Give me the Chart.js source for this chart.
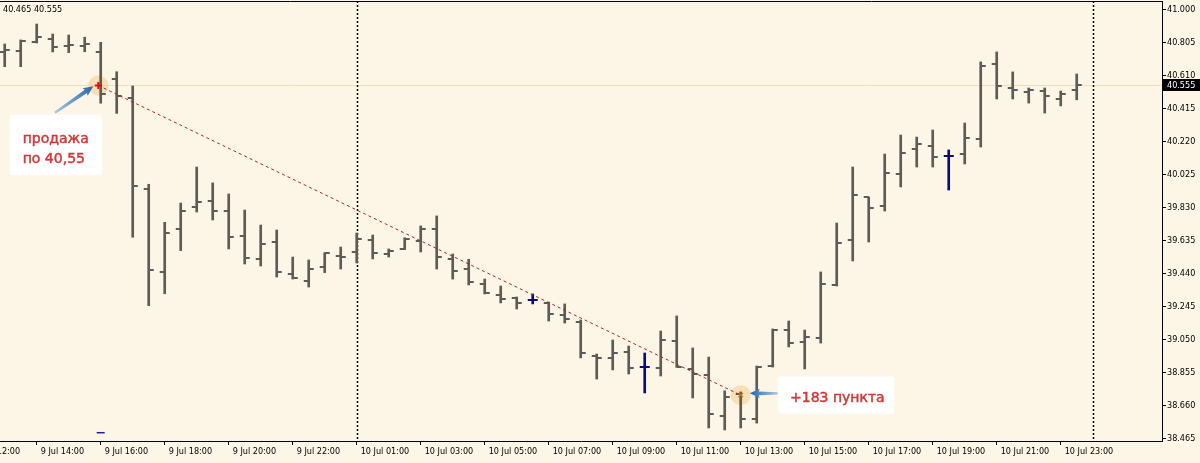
<!DOCTYPE html>
<html><head><meta charset="utf-8">
<script src="https://cdn.jsdelivr.net/npm/chart.js@4.4.0/dist/chart.umd.min.js"></script>
<style>html,body{margin:0;padding:0;background:#FDF5E6;overflow:hidden}#wrap{width:1200px;height:463px;position:relative}</style>
</head><body><div id="wrap"><canvas id="c" width="1200" height="463"></canvas></div>
<script>
// ---- data (M30 bars, 9 Jul 13:00 .. 10 Jul 23:30) ----
const opens = [40.748,40.754,40.807,40.825,40.783,40.783,40.749,40.586,40.474,39.938,
39.449,39.700,39.832,39.867,39.808,39.660,39.525,39.625,39.436,39.395,
39.479,39.542,39.566,39.637,39.554,39.584,39.631,39.702,39.525,39.465,
39.377,39.312,39.294,39.282,39.265,39.194,39.152,38.951,38.940,38.975,
38.886,38.880,39.040,38.875,38.839,38.597,38.727,38.579,38.892,39.105,
39.034,39.058,39.371,39.637,39.891,39.838,40.027,40.175,40.192,40.133,
40.145,40.234,40.677,40.535,40.511,40.517,40.470,40.523];
const highs = [40.795,40.819,40.913,40.854,40.848,40.835,40.805,40.631,40.547,39.966,
39.741,39.855,40.068,39.974,39.909,39.814,39.725,39.696,39.536,39.519,
39.562,39.595,39.678,39.666,39.584,39.650,39.720,39.779,39.554,39.523,
39.406,39.365,39.300,39.318,39.270,39.259,39.164,38.963,39.046,39.010,
38.969,39.099,39.188,38.999,38.945,38.745,38.739,38.892,39.111,39.158,
39.105,39.448,39.737,40.068,39.891,40.145,40.257,40.245,40.287,40.169,
40.328,40.689,40.748,40.630,40.535,40.535,40.517,40.618];
const lows = [40.661,40.661,40.801,40.748,40.744,40.749,40.445,40.385,39.653,39.249,
39.319,39.574,39.802,39.755,39.584,39.495,39.483,39.418,39.406,39.359,
39.444,39.465,39.501,39.525,39.536,39.580,39.566,39.465,39.406,39.371,
39.318,39.265,39.229,39.259,39.158,39.146,38.940,38.815,38.869,38.845,
38.733,38.833,38.884,38.703,38.526,38.514,38.526,38.555,38.886,39.005,
38.875,39.028,39.365,39.513,39.625,39.808,39.950,40.068,40.068,39.932,
40.086,40.186,40.470,40.470,40.446,40.387,40.429,40.465];
const closes = [40.760,40.813,40.836,40.777,40.789,40.792,40.500,40.488,39.958,39.458,
39.680,39.810,39.861,39.808,39.655,39.530,39.613,39.448,39.412,39.465,
39.558,39.536,39.643,39.560,39.572,39.643,39.702,39.536,39.454,39.389,
39.324,39.288,39.265,39.282,39.200,39.170,38.969,38.940,38.969,38.880,
38.886,39.046,38.886,38.845,38.609,38.709,38.579,38.886,39.105,39.028,
39.064,39.377,39.619,39.903,39.826,40.033,40.151,40.204,40.127,40.133,
40.240,40.665,40.547,40.523,40.523,40.488,40.500,40.555];

const xTickIndex  = [-2,2,6,10,14,18,22,26,30,34,38,42,46,50,54,58,62,66];
const xTickLabels = ['9 Jul 12:00','9 Jul 14:00','9 Jul 16:00','9 Jul 18:00','9 Jul 20:00','9 Jul 22:00',
  '10 Jul 01:00','10 Jul 03:00','10 Jul 05:00','10 Jul 07:00','10 Jul 09:00','10 Jul 11:00',
  '10 Jul 13:00','10 Jul 15:00','10 Jul 17:00','10 Jul 19:00','10 Jul 21:00','10 Jul 23:00'];
const yTickValues = [38.465,38.660,38.855,39.050,39.245,39.440,39.635,39.830,40.025,40.220,40.415,40.610,40.805,41.000];
const separatorIndex = [22, 68];
const bidPrice = 40.555;
const tradeIndex = [5.85, 46];
const tradePrice = [40.55, 38.72];
const objIndex = [6];
const objPrice = [38.498];
const infoText = '40.465 40.555';
const noteSell = ['продажа', 'по 40,55'];
const noteProfit = '+183 пункта';

// ---- styles ----
const BG = '#FDF5E6';
const BAR = '#5b5b57';
const DOJI = '#0a0a78';
const AXFONT = {family: "'DejaVu Sans Condensed','DejaVu Sans',sans-serif", size: 9};
const FONTSTR = "9px 'DejaVu Sans Condensed','DejaVu Sans',sans-serif";

function tickImg(color, side) {
  const c = document.createElement('canvas'); c.width = 12; c.height = 2;
  const g = c.getContext('2d'); g.fillStyle = color;
  if (side === 'L') g.fillRect(1, 0, 5, 2); else g.fillRect(6, 0, 5, 2);
  return c;
}
const imgs = {gL: tickImg(BAR,'L'), gR: tickImg(BAR,'R'), nL: tickImg(DOJI,'L'), nR: tickImg(DOJI,'R')};
const isDoji = i => opens[i] === closes[i];
const idx = opens.map((_, i) => i);

function arrow(ctx, x1, y1, x2, y2) {
  const ang = Math.atan2(y2 - y1, x2 - x1), len = Math.hypot(x2 - x1, y2 - y1);
  ctx.save(); ctx.translate(x1, y1); ctx.rotate(ang);
  const g = ctx.createLinearGradient(0, 0, len, 0);
  g.addColorStop(0, '#a8c6e6'); g.addColorStop(1, '#2766ab');
  ctx.fillStyle = g; ctx.beginPath();
  ctx.moveTo(0, -1.1); ctx.lineTo(len - 9, -1.9); ctx.lineTo(len - 10, -4.6); ctx.lineTo(len, 0);
  ctx.lineTo(len - 10, 4.6); ctx.lineTo(len - 9, 1.9); ctx.lineTo(0, 1.1); ctx.closePath(); ctx.fill();
  ctx.restore();
}
function softBox(ctx, x, y, w, h) {
  ctx.save(); ctx.shadowColor = 'rgba(255,255,255,0.9)'; ctx.shadowBlur = 5;
  ctx.fillStyle = 'rgba(255,255,255,0.88)'; ctx.fillRect(x, y, w, h); ctx.restore();
}
function noteText(ctx, s, x, y) {
  ctx.fillText(s, x, y); ctx.strokeText(s, x, y);
}

const decor = {
  id: 'decor',
  beforeDraw(chart) {
    const {ctx, width, height} = chart;
    ctx.save(); ctx.fillStyle = BG; ctx.fillRect(0, 0, width, height); ctx.restore();
  },
  beforeDatasetsDraw(chart) {
    const {ctx, chartArea: a, scales: {x, y}} = chart;
    ctx.save();
    const by = Math.round(y.getPixelForValue(bidPrice)) + 0.5;
    ctx.strokeStyle = '#F1DDB9'; ctx.lineWidth = 1;
    ctx.beginPath(); ctx.moveTo(a.left, by); ctx.lineTo(a.right, by); ctx.stroke();
    ctx.strokeStyle = '#000'; ctx.lineWidth = 1.5; ctx.setLineDash([2, 2]);
    separatorIndex.forEach(i => {
      const px = Math.round(x.getPixelForValue(i)) + 0.5;
      ctx.beginPath(); ctx.moveTo(px, a.top); ctx.lineTo(px, a.bottom); ctx.stroke();
    });
    ctx.setLineDash([]); ctx.lineWidth = 1;
    ctx.beginPath(); ctx.moveTo(a.left, a.top + 0.5); ctx.lineTo(a.right, a.top + 0.5); ctx.stroke();
    ctx.restore();
  },
  afterDatasetsDraw(chart) {
    const {ctx, scales: {x, y}} = chart;
    const p1 = {x: x.getPixelForValue(tradeIndex[0]), y: y.getPixelForValue(tradePrice[0])};
    const p2 = {x: x.getPixelForValue(tradeIndex[1]), y: y.getPixelForValue(tradePrice[1])};
    ctx.save();
    softBox(ctx, p1.x - 88.3, p1.y + 29.5, 91.7, 60);
    softBox(ctx, p2.x + 37.6, p2.y - 18.4, 116, 36.6);
    arrow(ctx, p1.x - 43.3, p1.y + 27.3, p1.x - 5, p1.y + 0.8);
    arrow(ctx, p2.x + 37, p2.y - 1.8, p2.x + 9, p2.y - 1.8);
    ctx.fillStyle = '#D13A3A'; ctx.strokeStyle = '#D13A3A'; ctx.lineWidth = 0.5;
    ctx.font = "14px 'DejaVu Sans',sans-serif"; ctx.textBaseline = 'alphabetic';
    noteText(ctx, noteSell[0], p1.x - 75.6, p1.y + 57.5);
    noteText(ctx, noteSell[1], p1.x - 75.6, p1.y + 77.5);
    noteText(ctx, noteProfit, p2.x + 49.3, p2.y + 6.6);
    ctx.restore();
  },
  afterDraw(chart) {
    const {ctx, chartArea: a, scales: {y}} = chart;
    ctx.save();
    const py = Math.round(y.getPixelForValue(bidPrice));
    ctx.fillStyle = '#000'; ctx.fillRect(a.right + 1, py - 6, 38, 12);
    ctx.fillStyle = '#fff'; ctx.font = FONTSTR; ctx.textBaseline = 'middle'; ctx.textAlign = 'left';
    ctx.fillText(bidPrice.toFixed(3), a.right + 5, py + 0.5);
    ctx.fillStyle = '#000';
    ctx.fillText(infoText, 3, 9.5);
    ctx.restore();
  }
};

new Chart(document.getElementById('c'), {
  type: 'bar',
  data: {
    datasets: [
      {type: 'scatter', order: 10, data: tradeIndex.map((v, i) => ({x: v, y: tradePrice[i]})),
        pointRadius: 10, pointBackgroundColor: 'rgba(252,200,130,0.5)', pointBorderWidth: 0},
      {type: 'bar', order: 6, data: idx.map(i => ({x: i, y: [lows[i], highs[i]]})),
        barThickness: 2, backgroundColor: idx.map(i => isDoji(i) ? DOJI : BAR), borderWidth: 0},
      {type: 'scatter', order: 5, data: idx.map(i => ({x: i, y: opens[i]})),
        pointRadius: 3, pointStyle: c => isDoji(c.dataIndex) ? imgs.nL : imgs.gL},
      {type: 'scatter', order: 5, data: idx.map(i => ({x: i, y: closes[i]})),
        pointRadius: 3, pointStyle: c => isDoji(c.dataIndex) ? imgs.nR : imgs.gR},
      {type: 'line', order: 3, data: tradeIndex.map((v, i) => ({x: v, y: tradePrice[i]})),
        borderColor: '#a52a2a', borderWidth: 1, borderDash: [3, 3], pointRadius: 0, fill: false},
      {type: 'scatter', order: 1, data: [{x: tradeIndex[0], y: tradePrice[0]}],
        pointStyle: 'cross', pointRadius: 3.5, pointBorderColor: '#e01010', pointBorderWidth: 2},
      {type: 'scatter', order: 1, data: [{x: tradeIndex[1], y: tradePrice[1]}],
        pointStyle: 'crossRot', pointRadius: 3, pointBorderColor: '#b07818', pointBorderWidth: 1.5},
      {type: 'scatter', order: 1, data: objIndex.map((v, i) => ({x: v, y: objPrice[i]})),
        pointStyle: 'line', pointRadius: 4, pointBorderColor: '#20209a', pointBorderWidth: 1.5}
    ]
  },
  options: {
    responsive: false, animation: false, events: [], devicePixelRatio: 1,
    layout: {autoPadding: false, padding: {top: 1, left: 0, right: 0, bottom: 0}},
    plugins: {legend: {display: false}, tooltip: {enabled: false}},
    scales: {
      x: {
        type: 'linear', offset: false, min: -0.294, max: 72.33, position: 'bottom',
        border: {display: true, color: '#000', width: 1},
        grid: {display: true, drawOnChartArea: false, drawTicks: true, tickLength: 4, color: '#000', offset: false},
        ticks: {autoSkip: false, maxRotation: 0, minRotation: 0, align: 'start', labelOffset: 4, padding: 1,
          color: '#000', font: AXFONT, callback: (v, i) => xTickLabels[i]},
        afterBuildTicks: s => { s.ticks = xTickIndex.map(v => ({value: v})); },
        afterFit: s => { s.height = 22; s.paddingLeft = 0; s.paddingRight = 0; }
      },
      y: {
        type: 'linear', position: 'right', min: 38.449, max: 41.049, beginAtZero: false,
        border: {display: true, color: '#000', width: 1},
        grid: {display: true, drawOnChartArea: false, drawTicks: true, tickLength: 4, color: '#000'},
        ticks: {padding: 1, color: '#000', font: AXFONT, callback: v => Number(v).toFixed(3)},
        afterBuildTicks: s => { s.ticks = yTickValues.map(v => ({value: v})); },
        afterFit: s => { s.width = 38; s.paddingTop = 0; s.paddingBottom = 0; }
      }
    }
  },
  plugins: [decor]
});
</script>
</body></html>
